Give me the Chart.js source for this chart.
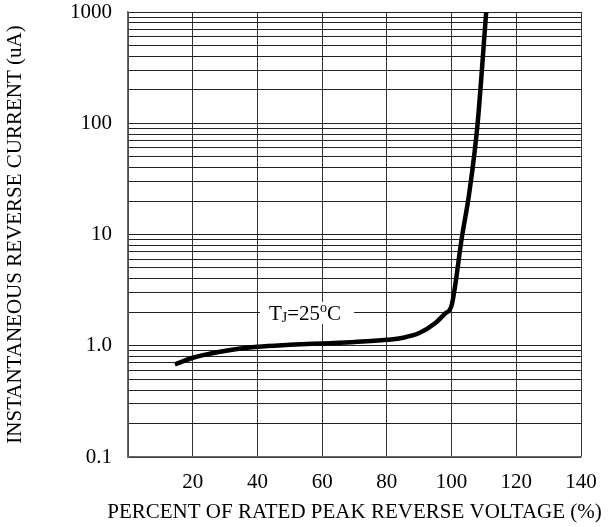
<!DOCTYPE html>
<html>
<head>
<meta charset="utf-8">
<script src="https://cdn.jsdelivr.net/npm/chart.js@4/dist/chart.umd.min.js"></script>
<style>
  html, body { margin: 0; padding: 0; background: #fff; }
  #wrap { width: 608px; height: 527px; }
</style>
</head>
<body>
<div id="wrap"><canvas id="chart" width="608" height="527"></canvas></div>
<script>
// curve: percent of rated voltage -> current (uA)
const voltagePct = [14.5, 20, 28, 40, 50, 60, 70, 80, 85, 90, 95, 98, 100, 103.2, 105.5, 108, 110.7];
const currentUA  = [0.68, 0.78, 0.88, 0.98, 1.02, 1.05, 1.08, 1.13, 1.18, 1.3, 1.6, 1.95, 2.3, 9.5, 24, 96, 1000];

const yMajorTicks = [0.1, 1, 10, 100, 1000];
const yMajorLabels = ['0.1', '1.0', '10', '100', '1000'];
const xTicks = [0, 20, 40, 60, 80, 100, 120, 140];

const xTitle = 'PERCENT OF RATED PEAK REVERSE VOLTAGE (%)';
const yTitle = 'INSTANTANEOUS REVERSE CURRENT (uA)';
const tempLabel = { x: 54.7, y: 1.97, main: 'T', sub: 'J', mid: '=25', sup: 'o', end: 'C' };

const serif = 'Liberation Serif';

// minor log gridlines 1..9 per decade (no 1.5 steps)
function logTicks() {
  const out = [];
  for (let i = 0; i < yMajorTicks.length - 1; i++) {
    for (let m = 1; m < 10; m++) out.push({ value: yMajorTicks[i] * m });
  }
  out.push({ value: yMajorTicks[yMajorTicks.length - 1] });
  return out;
}

const tempLabelPlugin = {
  id: 'tempLabel',
  afterDatasetsDraw(chart) {
    const ctx = chart.ctx;
    const cx = chart.scales.x.getPixelForValue(tempLabel.x);
    const cy = chart.scales.y.getPixelForValue(tempLabel.y);
    const big = '21px "' + serif + '"';
    const small = '14px "' + serif + '"';
    ctx.save();
    ctx.font = big;
    const wMain = ctx.measureText(tempLabel.main).width;
    const wMid = ctx.measureText(tempLabel.mid).width;
    const wEnd = ctx.measureText(tempLabel.end).width;
    ctx.font = small;
    const wSub = ctx.measureText(tempLabel.sub).width;
    const wSup = ctx.measureText(tempLabel.sup).width;
    const total = wMain + wSub + wMid + wSup + wEnd;
    ctx.fillStyle = '#fff';
    ctx.fillRect(cx - total / 2 - 9, cy - 11, total + 22, 22);
    ctx.fillStyle = '#000';
    ctx.textBaseline = 'alphabetic';
    let x = cx - total / 2;
    const base = cy + 7;
    ctx.font = big; ctx.fillText(tempLabel.main, x, base); x += wMain;
    ctx.font = small; ctx.fillText(tempLabel.sub, x, base + 2); x += wSub;
    ctx.font = big; ctx.fillText(tempLabel.mid, x, base); x += wMid;
    ctx.font = small; ctx.fillText(tempLabel.sup, x, base - 8); x += wSup;
    ctx.font = big; ctx.fillText(tempLabel.end, x, base);
    ctx.restore();
  }
};

// x title is wider than the plot, chart.js would squeeze it -> draw it by hand
const xTitlePlugin = {
  id: 'xTitle',
  afterDraw(chart) {
    const ctx = chart.ctx;
    const a = chart.chartArea;
    ctx.save();
    ctx.font = '21px "' + serif + '"';
    ctx.fillStyle = '#000';
    ctx.textAlign = 'center';
    ctx.textBaseline = 'middle';
    ctx.fillText(xTitle, (a.left + a.right) / 2, 512);
    ctx.restore();
  }
};

new Chart(document.getElementById('chart'), {
  type: 'line',
  data: {
    datasets: [{
      data: voltagePct.map((v, i) => ({ x: v, y: currentUA[i] })),
      borderColor: '#000',
      borderWidth: 4.5,
      pointRadius: 0,
      cubicInterpolationMode: 'monotone',
      fill: false
    }]
  },
  options: {
    responsive: false,
    animation: false,
    layout: { padding: { top: 12, right: 27, left: 0, bottom: 0 } },
    plugins: { legend: { display: false }, tooltip: { enabled: false } },
    scales: {
      x: {
        type: 'linear',
        min: 0,
        max: 140,
        afterBuildTicks: s => { s.ticks = xTicks.map(v => ({ value: v })); },
        afterFit: s => { s.height = 70; s.paddingLeft = 0; s.paddingRight = 0; },
        grid: { color: '#333', lineWidth: 1, drawTicks: false },
        border: { color: '#666', width: 1.5 },
        ticks: {
          padding: 13,
          color: '#000',
          font: { family: serif, size: 21 },
          callback: v => (v === 0 ? '' : String(v))
        },
        title: { display: false }
      },
      y: {
        type: 'logarithmic',
        min: 0.1,
        max: 1000,
        afterBuildTicks: s => { s.ticks = logTicks(); },
        afterFit: s => { s.width = 128; s.paddingTop = 0; s.paddingBottom = 0; },
        grid: { color: '#222', lineWidth: 1, drawTicks: false },
        border: { color: '#666', width: 1.5 },
        ticks: {
          autoSkip: false,
          padding: 16,
          color: '#000',
          font: { family: serif, size: 21 },
          callback: v => {
            const i = yMajorTicks.findIndex(t => Math.abs(t - v) < t * 1e-6);
            return i >= 0 ? yMajorLabels[i] : '';
          }
        },
        title: {
          display: true,
          text: yTitle,
          color: '#000',
          font: { family: serif, size: 21 },
          padding: { top: 2.5, bottom: 0 }
        }
      }
    }
  },
  plugins: [tempLabelPlugin, xTitlePlugin]
});
</script>
</body>
</html>
